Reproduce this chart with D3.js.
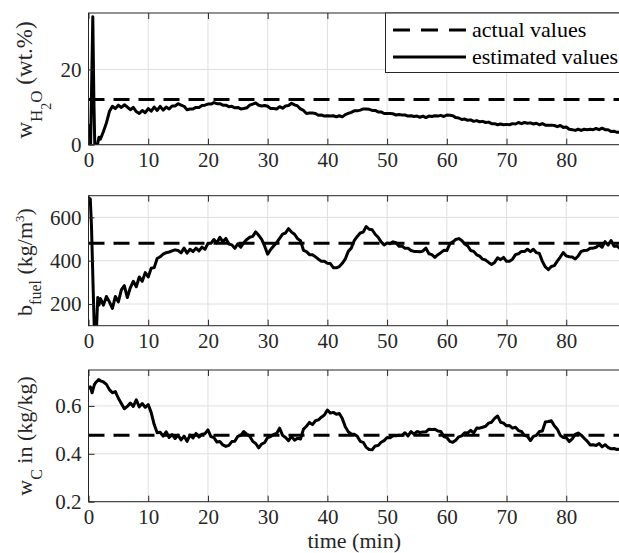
<!DOCTYPE html>
<meta charset="utf-8">
<style>
body { margin: 0; background: #fff; }
.axis .domain { display: none; }
</style>
<svg width="619" height="553"></svg>
<script src="https://d3js.org/d3.v7.min.js"></script>
<script>

// x axis (time, min)
var xTicks = [0, 10, 20, 30, 40, 50, 60, 70, 80];
var gridStart = 2, gridStep = 0.5;   // tail samples start at 2 min, every 0.5 min

// w_H2O (wt.%)
var h2oActual = 12;
var h2oEarlyT = [0, 0.12, 0.35, 0.55, 0.72, 0.9, 1.05, 1.5, 1.75];
var h2oEarlyV = [5.5, 0, 0, 18, 34, 12, 0, 0, 2.0];
var h2oTail = [
  1.5, 3.5, 5.8, 8.8, 10.2, 9.6, 10.5, 9.9, 10.6, 10.0,
  9.3, 9.9, 8.8, 8.3, 9.1, 8.5, 9.6, 8.9, 10.0, 9.1,
  10.2, 9.2, 10.0, 9.5, 10.3, 10.3, 10.9, 10.5, 10.2, 9.3,
  9.5, 9.5, 9.9, 9.9, 10.4, 10.5, 10.8, 10.8, 11.2, 10.9,
  10.9, 10.5, 10.5, 10.1, 10.2, 9.8, 9.9, 9.5, 9.6, 9.8,
  10.5, 10.8, 11.1, 10.5, 10.3, 10.4, 10.2, 9.6, 9.6, 9.5,
  10.1, 9.7, 10.3, 10.4, 11.0, 10.6, 10.3, 9.5, 9.1, 8.3,
  8.4, 8.4, 8.3, 7.8, 7.9, 7.6, 7.7, 7.6, 7.7, 7.4,
  7.7, 7.4, 8.0, 8.3, 8.6, 9.0, 9.0, 9.2, 9.5, 9.5,
  9.4, 9.1, 9.1, 8.7, 8.7, 8.3, 8.3, 8.3, 8.2, 7.9,
  8.0, 7.9, 7.9, 7.6, 7.7, 7.5, 7.6, 7.3, 7.6, 7.2,
  7.6, 7.5, 7.7, 7.6, 7.8, 7.5, 7.9, 7.8, 7.7, 7.2,
  7.1, 6.7, 6.8, 6.5, 6.6, 6.2, 6.4, 6.1, 6.2, 5.9,
  6.0, 5.6, 5.6, 5.3, 5.5, 5.3, 5.4, 5.3, 5.6, 5.5,
  5.9, 5.6, 5.9, 5.7, 5.8, 5.5, 5.7, 5.3, 5.6, 5.2,
  5.2, 5.2, 5.1, 4.8, 5.1, 4.6, 4.7, 4.1, 4.0, 3.8,
  4.1, 3.8, 4.1, 4.0, 4.1, 4.0, 4.3, 4.0, 4.4, 4.0,
  4.0, 3.5, 3.6, 3.3, 3.3
];

// b_fuel (kg/m3)
var fuelActual = 480;
var fuelEarlyT = [0, 0.3, 0.5, 0.8, 1.0, 1.3, 1.55, 1.75];
var fuelEarlyV = [690, 685, 560, 250, 60, 60, 230, 195];
var fuelTail = [
  225, 195, 235, 210, 180, 235, 210, 265, 285, 230,
  275, 305, 280, 325, 305, 345, 325, 365, 368, 410,
  418, 430, 437, 440, 445, 450, 447, 436, 458, 435,
  453, 442, 458, 445, 463, 452, 480, 480, 498, 482,
  508, 487, 503, 477, 473, 457, 478, 462, 483, 498,
  508, 512, 533, 517, 498, 467, 430, 452, 468, 483,
  503, 523, 528, 548, 532, 522, 502, 492, 448, 442,
  428, 427, 418, 407, 398, 397, 388, 387, 368, 367,
  373, 388, 408, 443, 458, 493, 512, 528, 532, 558,
  545, 543, 522, 508, 487, 473, 482, 478, 487, 483,
  467, 468, 457, 458, 447, 443, 442, 441, 445, 458,
  432, 428, 415, 428, 437, 448, 447, 478, 487, 498,
  502, 493, 477, 468, 447, 443, 427, 421, 407, 403,
  392, 383, 392, 413, 405, 415, 397, 398, 407, 428,
  432, 443, 442, 453, 442, 453, 437, 433, 397, 371,
  359, 373, 377, 398, 417, 438, 422, 418, 417, 408,
  422, 443, 447, 448, 457, 458, 462, 473, 462, 488,
  472, 493, 467, 468, 457
];

// w_C in (kg/kg)
var carbActual = 0.478;
var carbEarlyT = [0, 0.3, 0.6, 1.0, 1.3, 1.7];
var carbEarlyV = [0.672, 0.68, 0.655, 0.69, 0.70, 0.71];
var carbTail = [
  0.705, 0.70, 0.69, 0.668, 0.655, 0.66, 0.632, 0.61, 0.588, 0.598,
  0.612, 0.598, 0.625, 0.596, 0.61, 0.594, 0.606, 0.572, 0.522, 0.488,
  0.49, 0.474, 0.492, 0.468, 0.48, 0.464, 0.478, 0.458, 0.474, 0.452,
  0.478, 0.466, 0.485, 0.47, 0.482, 0.484, 0.5, 0.472, 0.468, 0.449,
  0.451, 0.437, 0.431, 0.435, 0.451, 0.452, 0.473, 0.477, 0.493, 0.482,
  0.473, 0.452, 0.443, 0.425, 0.441, 0.447, 0.468, 0.472, 0.481, 0.485,
  0.507, 0.477, 0.468, 0.455, 0.473, 0.457, 0.465, 0.462, 0.503, 0.515,
  0.531, 0.522, 0.538, 0.542, 0.553, 0.562, 0.583, 0.57, 0.573, 0.565,
  0.568, 0.547, 0.513, 0.492, 0.483, 0.482, 0.473, 0.452, 0.448, 0.427,
  0.418, 0.417, 0.433, 0.435, 0.448, 0.455, 0.468, 0.467, 0.475, 0.475,
  0.478, 0.477, 0.488, 0.475, 0.493, 0.482, 0.493, 0.489, 0.491, 0.492,
  0.503, 0.502, 0.503, 0.495, 0.493, 0.472, 0.468, 0.452, 0.448, 0.457,
  0.471, 0.475, 0.488, 0.487, 0.498, 0.487, 0.508, 0.507, 0.511, 0.515,
  0.528, 0.532, 0.548, 0.558, 0.532, 0.528, 0.517, 0.518, 0.507, 0.511,
  0.497, 0.493, 0.477, 0.473, 0.455, 0.473, 0.477, 0.493, 0.495, 0.533,
  0.535, 0.538, 0.517, 0.503, 0.477, 0.468, 0.467, 0.451, 0.462, 0.481,
  0.487, 0.478, 0.465, 0.453, 0.437, 0.438, 0.435, 0.443, 0.429, 0.438,
  0.427, 0.421, 0.422, 0.418, 0.42
];

var FONT = "'Liberation Serif', 'Times New Roman', serif";

var svg = d3.select("svg"),
    left = 88.5, right = 620;

var x = d3.scaleLinear().domain([0, 89]).range([left, right]);

var axColor = "#262626", gridColor = "#dfdfdf", tickLen = 6;

function series(earlyT, earlyV, tail) {
  var pts = earlyT.map(function(t, i) { return [t, earlyV[i]]; });
  tail.forEach(function(v, i) { pts.push([gridStart + i * gridStep, v]); });
  return pts;
}

var panels = [
  { top: 13, bottom: 144.7, domain: [0, 35], ticks: [0, 20], fmt: d3.format("d"),
    actual: h2oActual, data: series(h2oEarlyT, h2oEarlyV, h2oTail), cy: 80,
    label: [["w", 0, 23], ["H", 10, 17], ["2", 9, 14], ["O", -9, 17], [" (wt.%)", -10, 23]] },
  { top: 195.7, bottom: 325.7, domain: [100, 700], ticks: [200, 400, 600], fmt: d3.format("d"),
    actual: fuelActual, data: series(fuelEarlyT, fuelEarlyV, fuelTail), cy: 262,
    label: [["b", 0, 22], ["fuel", 9, 16], [" (kg/m", -9, 22], ["3", -8, 13], [")", 8, 22]] },
  { top: 370, bottom: 501.7, domain: [0.2, 0.75], ticks: [0.2, 0.4, 0.6], fmt: d3.format(".1f"),
    actual: carbActual, data: series(carbEarlyT, carbEarlyV, carbTail), cy: 436,
    label: [["w", 0, 22], ["C", 10, 16], [" in (kg/kg)", -10, 22]] }
];

panels.forEach(function(p, k) {
  var y = d3.scaleLinear().domain(p.domain).range([p.bottom, p.top]);
  var h = p.bottom - p.top;
  var g = svg.append("g");

  svg.append("clipPath").attr("id", "clip" + k)
    .append("rect").attr("x", left).attr("y", p.top)
    .attr("width", right - left).attr("height", h);

  // grid
  g.append("g").selectAll("line").data(xTicks).enter().append("line")
    .attr("x1", x).attr("x2", x).attr("y1", p.top).attr("y2", p.bottom)
    .attr("stroke", gridColor);
  g.append("g").selectAll("line").data(p.ticks).enter().append("line")
    .attr("x1", left).attr("x2", right).attr("y1", y).attr("y2", y)
    .attr("stroke", gridColor);

  // lines
  var plot = g.append("g").attr("clip-path", "url(#clip" + k + ")");
  plot.append("line")
    .attr("x1", x(0)).attr("x2", x(89))
    .attr("y1", y(p.actual)).attr("y2", y(p.actual))
    .attr("stroke", "#000").attr("stroke-width", 3)
    .attr("stroke-dasharray", "16,9");
  plot.append("path").datum(p.data)
    .attr("fill", "none").attr("stroke", "#000").attr("stroke-width", 3)
    .attr("stroke-linejoin", "round")
    .attr("d", d3.line().x(function(d) { return x(d[0]); }).y(function(d) { return y(d[1]); }));

  // axes with inward ticks
  var xb = g.append("g").attr("class", "axis")
    .attr("transform", "translate(0," + p.bottom + ")")
    .call(d3.axisBottom(x).tickValues(xTicks).tickSize(-tickLen).tickPadding(7).tickFormat(d3.format("d")));
  var xt = g.append("g").attr("class", "axis")
    .attr("transform", "translate(0," + p.top + ")")
    .call(d3.axisTop(x).tickValues(xTicks).tickSize(-tickLen).tickFormat(""));
  var yl = g.append("g").attr("class", "axis")
    .attr("transform", "translate(" + left + ",0)")
    .call(d3.axisLeft(y).tickValues(p.ticks).tickSize(-tickLen).tickPadding(7).tickFormat(p.fmt));
  [xb, xt, yl].forEach(function(a) {
    a.selectAll("line").attr("stroke", axColor);
    a.selectAll("text").attr("fill", axColor).attr("font-size", 21)
      .style("font-family", FONT);
  });

  // box
  g.append("rect").attr("x", left).attr("y", p.top)
    .attr("width", right - left).attr("height", h)
    .attr("fill", "none").attr("stroke", axColor);

  // y label with sub/superscripts
  var lab = svg.append("text")
    .attr("transform", "translate(32," + p.cy + ") rotate(-90)")
    .attr("text-anchor", "middle").attr("fill", axColor)
    .style("font-family", FONT);
  p.label.forEach(function(s) {
    lab.append("tspan").attr("dy", s[1]).attr("font-size", s[2]).text(s[0]);
  });
});

// x label
svg.append("text")
  .attr("x", x(44.5)).attr("y", 548)
  .attr("text-anchor", "middle").attr("font-size", 22).attr("fill", axColor)
  .style("font-family", FONT)
  .text("time (min)");

// legend
var lg = svg.append("g");
lg.append("rect").attr("x", 385.5).attr("y", 13).attr("width", 240).attr("height", 59.5)
  .attr("fill", "#fff").attr("stroke", axColor);
var entries = [["actual values", "17,11"], ["estimated values", null]];
entries.forEach(function(e, i) {
  var yy = 30 + i * 27;
  lg.append("line").attr("x1", 393).attr("x2", 466).attr("y1", yy).attr("y2", yy)
    .attr("stroke", "#000").attr("stroke-width", 3)
    .attr("stroke-dasharray", e[1]);
  lg.append("text").attr("x", 472).attr("y", yy + 7)
    .attr("font-size", 22).attr("fill", "#000")
    .style("font-family", FONT)
    .text(e[0]);
});

</script>
